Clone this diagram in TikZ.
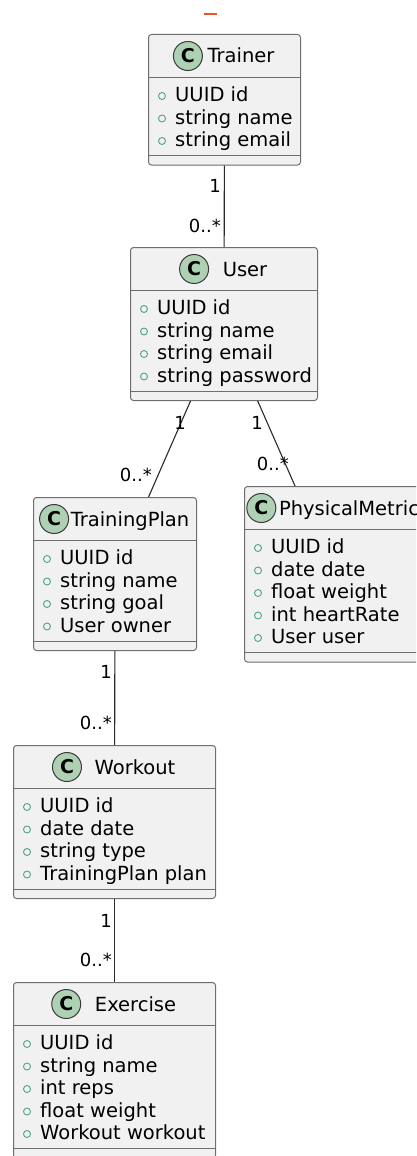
\documentclass[tikz,border=0pt]{standalone}
\usepackage{fontspec}
\setmainfont{DejaVu Sans}
\usetikzlibrary{positioning,calc}
\definecolor{boxfill}{HTML}{F1F1F1}
\definecolor{boxline}{HTML}{6E6E6E}
\definecolor{badgefill}{HTML}{ADD1B2}
\definecolor{badgeline}{HTML}{3A3A3A}
\definecolor{viscolor}{HTML}{4FA390}
\definecolor{edgecolor}{HTML}{2A2A2A}
\definecolor{markcolor}{HTML}{E2572B}
\tikzset{
  classbox/.style={draw=boxline, fill=boxfill, rounded corners=3pt, line width=1pt, inner sep=0pt},
  sepline/.style={draw=boxline, line width=1pt},
  titletext/.style={inner sep=0pt, text height=14pt, text depth=0pt, font=\fontsize{19.5}{23}\selectfont},
  badge/.style={circle, draw=badgeline, fill=badgefill, line width=1pt, minimum size=29pt, inner sep=0pt, font=\bfseries\fontsize{19}{19}\selectfont},
  attrtext/.style={anchor=west, inner sep=0pt, text height=14pt, text depth=0pt, font=\fontsize{19.5}{23}\selectfont},
  vis/.style={circle, draw=viscolor, line width=0.9pt, minimum size=7pt, inner sep=0pt},
  edge/.style={draw=edgecolor, line width=1.1pt},
  lbl/.style={anchor=east, inner sep=0pt, text height=13pt, text depth=0pt, font=\fontsize{18}{20}\selectfont},
}
% #1 name, #2 left, #3 top, #4 width, #5 rows, #6 title, #7 attributes, #8 gap badge-title
\newcommand\umlclass[8]{%
  \pgfmathsetmacro\umlH{63+22.5*#5}%
  \node[classbox, minimum width=#4pt, minimum height=\umlH pt, anchor=north west] (#1) at (#2,#3) {};
  \draw[sepline] (#1.north west) ++(0,43) -- ++(#4,0);
  \draw[sepline] (#1.south west) ++(0,-10) -- ++(#4,0);
  \node[titletext] (#1-t) at ({#2+#4/2+(29+#8)/2},{#3+22}) {#6};
  \node[badge] (#1-c) at ([xshift={-(#8+14.5)*1pt}]#1-t.west) {C};
  \foreach \a [count=\i from 0] in {#7} {
    \node[attrtext] (#1-a\i) at ({#2+27},{#3+43+17.5+22.5*\i}) {\a};
    \node[vis] (#1-v\i) at ({#2+14},{#3+43+17.5+22.5*\i+1.5}) {};
  }%
}
\begin{document}
\begin{tikzpicture}[x=1pt,y=-1pt]
\useasboundingbox (0,0) rectangle (416,1156);
\fill[white] (0,0) rectangle (416,1156);
\clip (0,0) rectangle (416,1156);

\coordinate (m1) at (204,14);
\coordinate (m2) at (217,14);
\draw[markcolor, line width=2.5pt] (m1) -- (m2);

\umlclass{trainer}{148}{34}{152}{3}{Trainer}{UUID id, string name, string email}{5}
\umlclass{user}{130}{247}{187}{4}{User}{UUID id, string name, string email, string password}{14}
\umlclass{plan}{33}{497}{163}{4}{TrainingPlan}{UUID id, string name, string goal, User owner}{2}
\umlclass{metric}{244}{486}{178}{5}{PhysicalMetric}{UUID id, date date, float weight, int heartRate, User user}{3}
\umlclass{workout}{13}{745}{202}{4}{Workout}{UUID id, date date, string type, TrainingPlan plan}{13}
\umlclass{exercise}{13}{982}{202}{5}{Exercise}{UUID id, string name, int reps, float weight, Workout workout}{14}

\draw[edge] (trainer) -- (user);
\draw[edge] (user) -- (plan);
\draw[edge] (user) -- (metric);
\draw[edge] (plan) -- (workout);
\draw[edge] (workout) -- (exercise);

\node[lbl] (l1a) at (221,186) {1};
\node[lbl] (l1b) at (221,226) {0..*};
\node[lbl] (l2a) at (186,423) {1};
\node[lbl] (l2b) at (152,475) {0..*};
\node[lbl] (l3a) at (263,423) {1};
\node[lbl] (l3b) at (289,464) {0..*};
\node[lbl] (l4a) at (112,672) {1};
\node[lbl] (l4b) at (112,723) {0..*};
\node[lbl] (l5a) at (112,921) {1};
\node[lbl] (l5b) at (112,960) {0..*};
\end{tikzpicture}
\end{document}
